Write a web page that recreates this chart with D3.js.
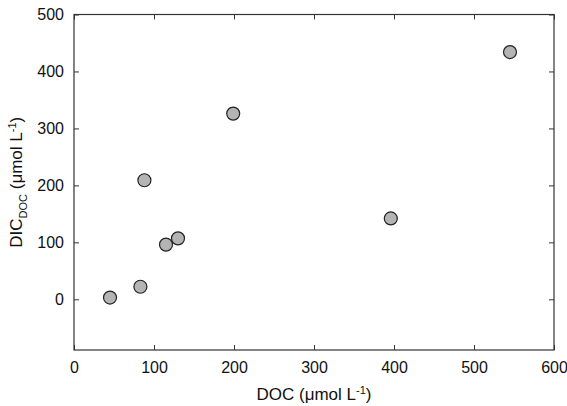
<!DOCTYPE html>
<html><head><meta charset="utf-8">
<script src="https://d3js.org/d3.v7.min.js"></script>
<style>body{margin:0;background:#fff}</style>
</head><body>
<svg id="c" width="567" height="406"></svg>
<script>
const docValues = [45, 83, 88, 115, 130, 199, 396, 545];
const dicValues = [3, 22, 209, 96, 107, 326, 142, 434];
const xTicks = [0, 100, 200, 300, 400, 500, 600];
const yTicks = [0, 100, 200, 300, 400, 500];

const svg = d3.select('#c');
const m = {l: 74, r: 13, t: 14.5, b: 56};
const W = 567, H = 406;
const x = d3.scaleLinear().domain([0, 600]).range([m.l, W - m.r]);
const y = d3.scaleLinear().domain([-89, 500]).range([H - m.b, m.t]);
const font = 'Arial, "Liberation Sans", sans-serif';

function style(g) {
  g.select('.domain').remove();
  g.selectAll('line').attr('stroke', '#333');
  g.selectAll('text').attr('font-family', font).attr('font-size', 16).attr('fill', '#111');
}
svg.append('g').attr('transform', `translate(0,${H - m.b})`)
  .call(d3.axisBottom(x).tickValues(xTicks).tickSizeInner(-5).tickSizeOuter(0).tickPadding(12)).call(style);
svg.append('g').attr('transform', `translate(0,${m.t})`)
  .call(d3.axisTop(x).tickValues(xTicks).tickSizeInner(-5).tickSizeOuter(0).tickFormat('')).call(style);
svg.append('g').attr('transform', `translate(${m.l},0)`)
  .call(d3.axisLeft(y).tickValues(yTicks).tickSizeInner(-5).tickSizeOuter(0).tickPadding(10)).call(style);
svg.append('g').attr('transform', `translate(${W - m.r},0)`)
  .call(d3.axisRight(y).tickValues(yTicks).tickSizeInner(-5).tickSizeOuter(0).tickFormat('')).call(style);

svg.append('rect').attr('x', m.l).attr('y', m.t)
  .attr('width', W - m.r - m.l).attr('height', H - m.b - m.t)
  .attr('fill', 'none').attr('stroke', '#333').attr('stroke-width', 1.2);

svg.append('g').selectAll('circle').data(docValues).join('circle')
  .attr('cx', d => x(d)).attr('cy', (d, i) => y(dicValues[i])).attr('r', 6.5)
  .attr('fill', '#b4b4b4').attr('stroke', '#222').attr('stroke-width', 1.2);

svg.append('text').attr('x', (m.l + W - m.r) / 2).attr('y', 400)
  .attr('text-anchor', 'middle').attr('font-family', font).attr('font-size', 17).attr('fill', '#111')
  .html('DOC (μmol L<tspan dy="-6" font-size="11">-1</tspan><tspan dy="6">)</tspan>');

svg.append('text').attr('transform', `translate(22,${(m.t + H - m.b) / 2}) rotate(-90)`)
  .attr('text-anchor', 'middle').attr('font-family', font).attr('font-size', 17).attr('fill', '#111')
  .html('DIC<tspan dy="5" font-size="11">DOC</tspan><tspan dy="-5"> (μmol L</tspan><tspan dy="-6" font-size="11">-1</tspan><tspan dy="6">)</tspan>');
</script>
</body></html>
